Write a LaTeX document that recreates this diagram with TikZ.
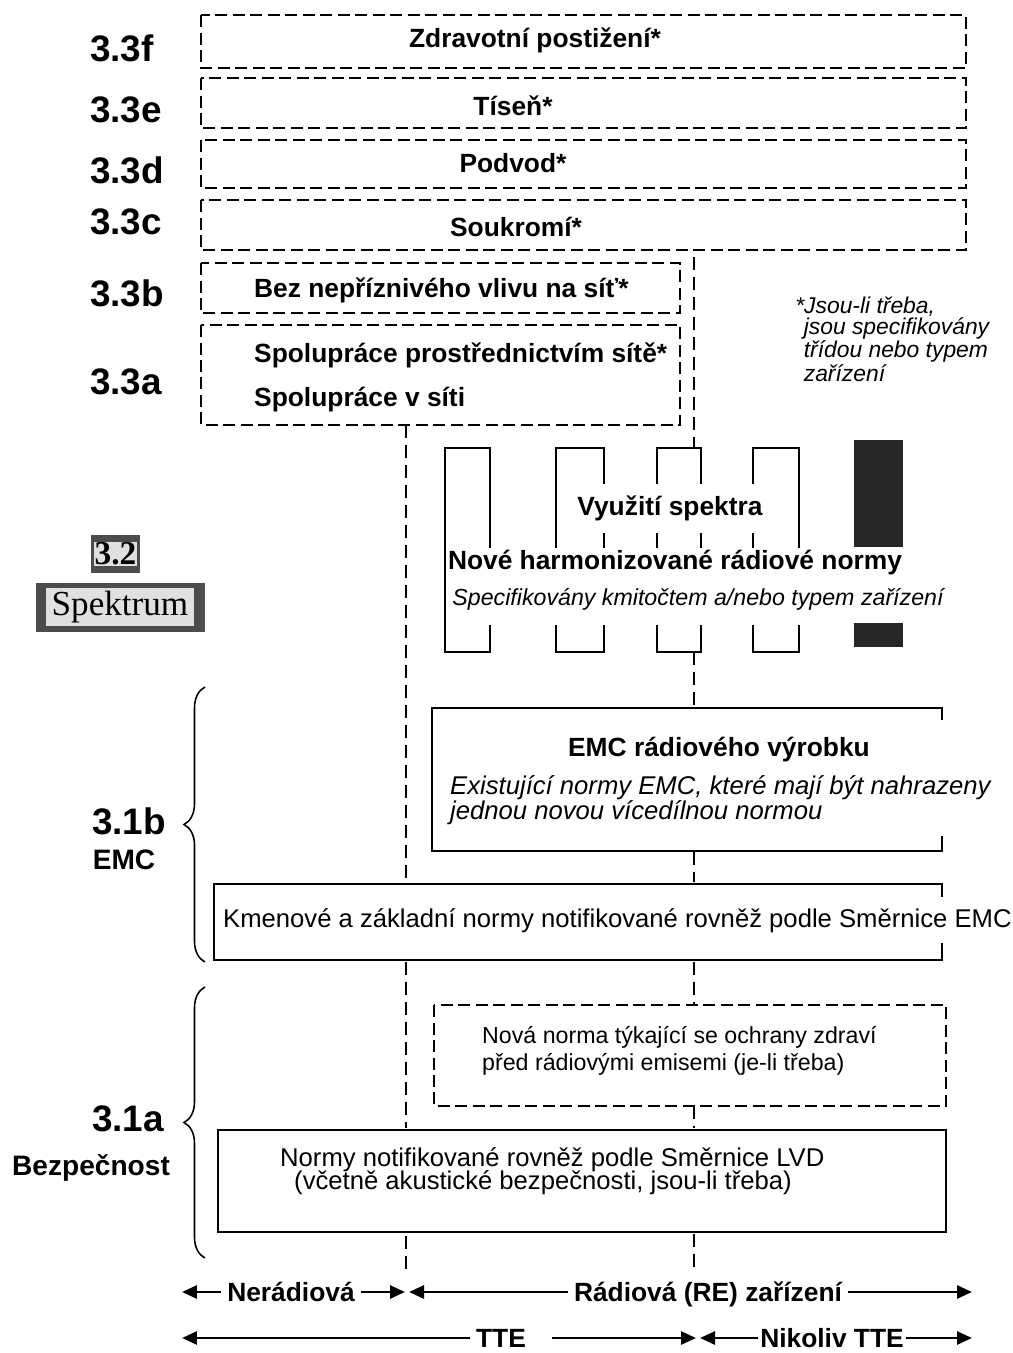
\documentclass[tikz,border=0pt]{standalone}
\usepackage{fontspec}
\setmainfont{Liberation Sans}
\newfontfamily\spekfont{Liberation Serif}
\usetikzlibrary{arrows.meta,decorations.pathreplacing}

\tikzset{
  dbox/.style={line width=1.4pt,dash pattern=on 0.24cm off 0.11cm},
  sbox/.style={line width=1.6pt},
  vline/.style={line width=0.9pt,dash pattern=on 0.26cm off 0.14cm},
  comb/.style={line width=1.3pt},
  hd/.style={font=\fontsize{15}{17}\selectfont\bfseries},
  rng/.style={hd,text height=10.7pt,text depth=0pt},
  txt/.style={font=\fontsize{14.6}{13}\selectfont},
  itx/.style={font=\fontsize{14.6}{14}\selectfont\itshape},
  lbl/.style={font=\fontsize{21}{24}\selectfont\bfseries},
  arr/.style={line width=1.6pt,-{Triangle[length=0.3cm,width=0.26cm]}},
  brc/.style={line width=0.9pt,decorate,decoration={brace,amplitude=0.42cm}},
}

\begin{document}
\begin{tikzpicture}[x=0.02cm,y=-0.02cm]
  \useasboundingbox (0,0) rectangle (1013,1353);

  % 3.3 boxes
  \draw[dbox] (201,15) rectangle (966,68);
  \draw[dbox] (201,78) rectangle (966,128);
  \draw[dbox] (201,140) rectangle (966,188);
  \draw[dbox] (201,200) rectangle (966,250);
  \draw[dbox] (201,263) rectangle (680,313);
  \draw[dbox] (201,325) rectangle (680,425);
  \node[hd] (zdr) at (535,40) {Zdravotní postižení*};
  \node[hd] (tisen) at (513,106) {Tíseň*};
  \node[hd] (podvod) at (513,163) {Podvod*};
  \node[hd] (soukr) at (516,227) {Soukromí*};
  \node[hd,anchor=west] (bez) at (248,290) {Bez nepříznivého vlivu na síť*};
  \node[hd,anchor=west] (spolA) at (248,355) {Spolupráce prostřednictvím sítě*};
  \node[hd,anchor=west] (spolB) at (248,400) {Spolupráce v síti};
  \node[lbl,anchor=west] (l3f) at (84,48) {3.3f};
  \node[lbl,anchor=west] (l3e) at (84,110) {3.3e};
  \node[lbl,anchor=west] (l3d) at (84,170) {3.3d};
  \node[lbl,anchor=west] (l3c) at (84,222) {3.3c};
  \node[lbl,anchor=west] (l3b) at (84,293) {3.3b};
  \node[lbl,anchor=west] (l3a) at (84,382) {3.3a};
  \node[font=\fontsize{13}{12}\selectfont\itshape,anchor=west,align=left,inner sep=0pt] (pozn) at (795,339)
    {*Jsou-li třeba,\\\hspace*{0.17cm}jsou specifikovány\\\hspace*{0.17cm}třídou nebo typem\\\hspace*{0.17cm}zařízení};

  % dashed dividers
  \draw[vline] (406,425) -- (406,884);
  \draw[vline] (406,962) -- (406,1128);
  \draw[vline] (406,1236) -- (406,1270);
  \draw[vline] (694,257) -- (694,447);
  \draw[vline] (694,652) -- (694,707);
  \draw[vline] (694,852) -- (694,882);
  \draw[vline] (694,962) -- (694,1004);
  \draw[vline] (694,1106) -- (694,1128);
  \draw[vline] (694,1234) -- (694,1268);

  % 3.2 spectrum comb
  \draw[comb] (445,548) -- (445,625);
  \foreach \l/\r in {445/490,556/604,657/701,753/799}{
    \draw[comb] (\l,548) |- (\r,448) -- (\r,548);
    \draw[comb] (\l,625) |- (\r,652) -- (\r,625);
  }
  \fill[black!85] (854,440) rectangle (903,547);
  \fill[black!85] (854,623) rectangle (903,647);
  \node[hd,fill=white,inner xsep=1pt,minimum height=0.98cm] (vyuz) at (670,508) {Využití spektra};
  \node[hd] (nove) at (675,563) {Nové harmonizované rádiové normy};
  \node[font=\fontsize{13.2}{15}\selectfont\itshape] (spec) at (698,599) {Specifikovány kmitočtem a/nebo typem zařízení};
  \fill[black!70] (91,535) rectangle (140,573);
  \node[font=\spekfont\fontsize{19}{20}\selectfont\bfseries,fill=black!12,inner sep=0.5pt] (s32) at (115.5,554) {3.2};
  \fill[black!70] (36,583) rectangle (205,632);
  \node[font=\spekfont\fontsize{20}{22}\selectfont,fill=black!12,inner xsep=3pt,inner ysep=2pt] (spek) at (120,607) {Spektrum};

  % 3.1b EMC
  \draw[sbox] (942,720) |- (432,708) |- (942,851) -- (942,836);
  \node[hd] (emcr) at (719,750) {EMC rádiového výrobku};
  \node[itx,anchor=west,align=left] (emcex) at (444,800) {Existující normy EMC, které mají být nahrazeny\\jednou novou vícedílnou normou};
  \draw[sbox] (942,897) |- (214,884) |- (942,960) -- (942,943);
  \node[txt,anchor=west] (kmen) at (217,921) {Kmenové a základní normy notifikované rovněž podle Směrnice EMC};
  \draw[brc] (205,962) -- (205,687);
  \node[lbl,anchor=west] (l1b) at (86,821) {3.1b};
  \node[font=\fontsize{16}{18}\selectfont\bfseries] (lemc) at (124,860) {EMC};

  % 3.1a safety
  \draw[dbox] (434,1005) rectangle (946,1106);
  \node[font=\fontsize{13.2}{15}\selectfont,anchor=west,align=left] (zdravi) at (476,1051) {Nová norma týkající se ochrany zdraví\\před rádiovými emisemi (je-li třeba)};
  \draw[sbox] (218,1130) rectangle (946,1232);
  \node[txt,anchor=west] (lvdA) at (274,1160) {Normy notifikované rovněž podle Směrnice LVD};
  \node[txt,anchor=west] (lvdB) at (288,1183) {(včetně akustické bezpečnosti, jsou-li třeba)};
  \draw[brc] (205,1258) -- (205,987);
  \node[lbl,anchor=west] (l1a) at (86,1119) {3.1a};
  \node[font=\fontsize{16}{18}\selectfont\bfseries] (lbez) at (91,1168) {Bezpečnost};

  % equipment ranges
  \coordinate (l1) at (182,1292);
  \coordinate (m1) at (405,1292);
  \coordinate (m1b) at (409,1292);
  \coordinate (r1) at (972,1292);
  \coordinate (l2) at (182,1338);
  \coordinate (m2) at (696,1338);
  \coordinate (m2b) at (700,1338);
  \coordinate (r2) at (972,1338);
  \node[rng] (nerad) at (291,1292) {Nerádiová};
  \node[rng] (rad) at (708,1292) {Rádiová (RE) zařízení};
  \node[rng] (tte) at (501,1338) {TTE};
  \node[rng,inner sep=1pt] (ntte) at (832,1338) {Nikoliv TTE};
  \draw[arr] (nerad) -- (l1);
  \draw[arr] (nerad) -- (m1);
  \draw[arr] (rad) -- (m1b);
  \draw[arr] (rad) -- (r1);
  \draw[arr] (tte) -- (l2);
  \draw[arr,shorten <=0.4cm] (tte) -- (m2);
  \draw[arr] (ntte) -- (m2b);
  \draw[arr] (ntte) -- (r2);
\end{tikzpicture}
\end{document}
